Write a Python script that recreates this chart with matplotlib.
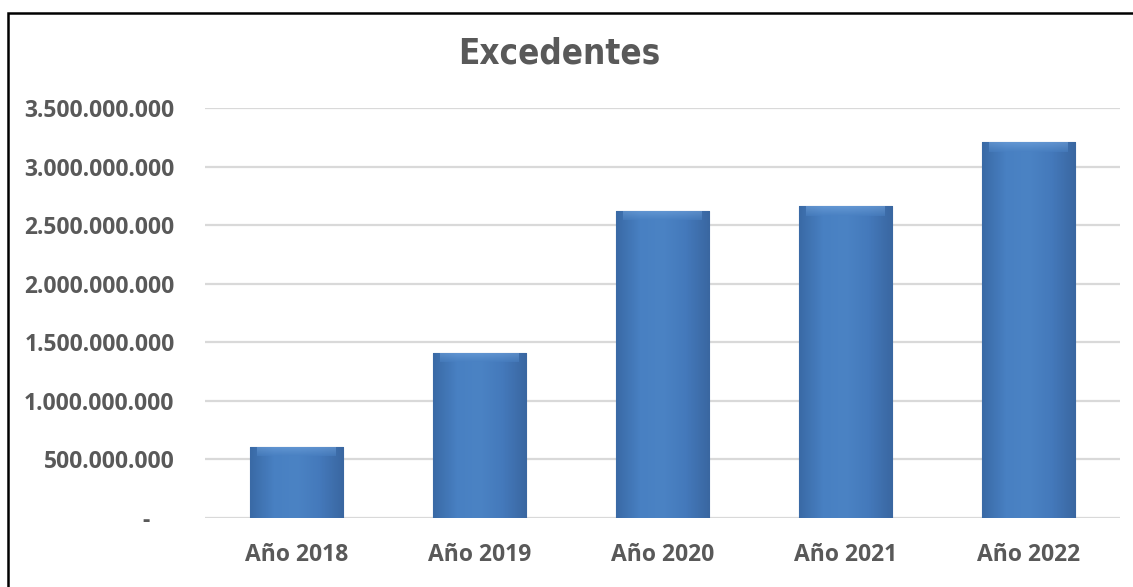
import numpy as np
import matplotlib
matplotlib.use('Agg')
import matplotlib.pyplot as plt
from matplotlib.patches import Rectangle
from matplotlib.colors import LinearSegmentedColormap
from matplotlib.ticker import FuncFormatter

# Data
years = ['Año 2018', 'Año 2019', 'Año 2020', 'Año 2021', 'Año 2022']
excedentes = [607000000, 1410000000, 2624000000, 2660000000, 3208000000]
y_ticks = [0, 500000000, 1000000000, 1500000000, 2000000000,
           2500000000, 3000000000, 3500000000]

grey = '#595959'

fig = plt.figure(figsize=(11.33, 5.87), dpi=100)
ax = fig.add_axes([205 / 1133, 1 - 518 / 587, 915 / 1133, 410 / 587])

x = np.arange(len(years))
bars = ax.bar(x, excedentes, width=0.51, color='#4a7ebb',
              edgecolor='#37659c', linewidth=0.8, zorder=3)

# soft horizontal gradient inside each bar, plus a lighter top bevel
grad = LinearSegmentedColormap.from_list(
    'bar', ['#3a6aa6', '#4880c2', '#4b83c4', '#4479bb', '#3a67a1'])
bevel = LinearSegmentedColormap.from_list('bevel', ['#78a9e0', '#4a81c3'])
for b in bars:
    x0, w, h = b.get_x(), b.get_width(), b.get_height()
    img = ax.imshow(np.linspace(0, 1, 64).reshape(1, -1), cmap=grad,
                    aspect='auto', extent=[x0, x0 + w, 0, h], zorder=3.1)
    img.set_clip_path(b)
    top = 80000000
    img2 = ax.imshow(np.linspace(0, 1, 16).reshape(-1, 1), cmap=bevel,
                     aspect='auto', extent=[x0 + w * 0.08, x0 + w * 0.92, h - top, h],
                     origin='upper', zorder=3.2, alpha=0.55)
    img2.set_clip_path(b)

ax.set_xlim(-0.5, len(years) - 0.5)
ax.set_ylim(0, 3500000000)
ax.set_yticks(y_ticks)

def fmt(v, pos):
    if v == 0:
        return '-    '
    return f'{int(v):,}'.replace(',', '.')

ax.yaxis.set_major_formatter(FuncFormatter(fmt))
ax.set_xticks(x)
ax.set_xticklabels(years)

for lab in ax.get_xticklabels() + ax.get_yticklabels():
    lab.set_fontfamily('Open Sans')
    lab.set_fontweight('bold')
    lab.set_fontsize(16.5)
    lab.set_color(grey)

ax.tick_params(axis='y', length=0, pad=22)
ax.tick_params(axis='x', length=0, pad=18)
ax.grid(axis='y', color='#d9d9d9', linewidth=1.6, zorder=0)
ax.set_axisbelow(True)
for s in ax.spines.values():
    s.set_visible(False)

fig.text(0.494, 1 - 54 / 587, 'Excedentes', ha='center', va='center',
         fontsize=25, fontweight='bold', color=grey, fontstretch='condensed',
         family=['DejaVu Sans'])

# outer frame, only the top and left edges fall inside the picture
fig.patches.append(Rectangle((8 / 1133, -0.1), 1.2, 1.1 - 13 / 587,
                             transform=fig.transFigure, fill=False,
                             edgecolor='black', linewidth=1.8))

fig.savefig('out.png', dpi=100)
